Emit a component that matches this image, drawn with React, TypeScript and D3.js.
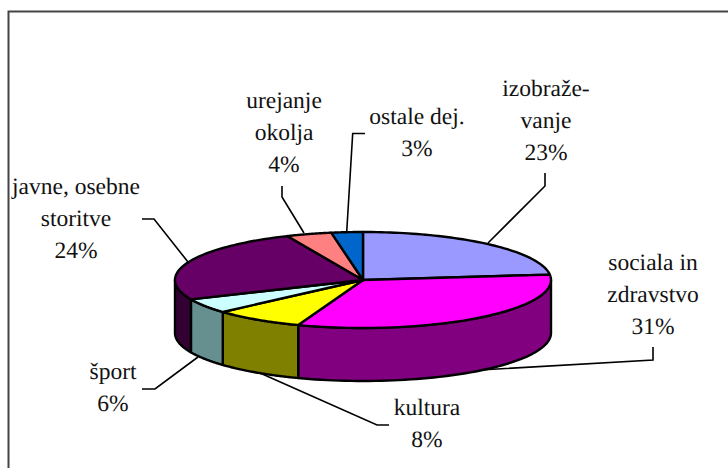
import React from "react";
import * as d3 from "d3";

const categories = ["izobraže-|vanje", "sociala in|zdravstvo", "kultura", "šport", "javne, osebne|storitve", "urejanje|okolja", "ostale dej."];
const percentLabels = ["23%", "31%", "8%", "6%", "24%", "4%", "3%"];
const sliceValues = [23.2, 32.4, 7.8, 5.0, 25.0, 3.9, 2.7];
const topColors = ["#9999FF", "#FF00FF", "#FFFF00", "#CCFFFF", "#660066", "#FF8080", "#0066CC"];
const sideColors = ["#666699", "#800080", "#808000", "#669090", "#330033", "#804040", "#003366"];
const labelCenters = [[546, 96], [653, 270], [427, 415], [113, 379], [76, 194], [284, 108], [417, 124]];
const leaders = [
  [[545, 173], [545, 186], [488, 243]],
  [[653, 347], [653, 360], [480, 370]],
  [[389, 425], [377, 425], [260, 373]],
  [[142, 389], [155, 389], [198, 357]],
  [[142, 219], [154, 219], [188, 262]],
  [[282, 186], [282, 197], [304, 233]],
  [[365, 133.5], [352.7, 133.5], [346.7, 232]],
];

const W = 728, H = 468;
const cx = 363, cy = 280, rx = 188, ry = 48, depth = 53;
const LINE = 32;

const px = (a: number) => cx + rx * Math.sin(a);
const py = (a: number) => cy - ry * Math.cos(a);
const line = d3.line<[number, number]>();
const arcPts = (a0: number, a1: number, dy = 0): [number, number][] =>
  d3.range(0, 61).map((i) => {
    const a = a0 + ((a1 - a0) * i) / 60;
    return [px(a), py(a) + dy] as [number, number];
  });

export default function App() {
  const arcs = d3.pie<number>().sort(null).value((d) => d)(sliceValues);
  const lo = Math.PI / 2, hi = (3 * Math.PI) / 2;
  return (
    <svg width={W} height={H} style={{ position: "absolute", left: 0, top: 0, background: "#fff" }}>
      <path d={`M8.5,${H}V11.5H${W}`} fill="none" stroke="#444" strokeWidth={2} />
      {arcs.map((s, i) => {
        const a0 = Math.max(s.startAngle, lo), a1 = Math.min(s.endAngle, hi);
        if (a1 <= a0) return null;
        const pts = [...arcPts(a0, a1), ...arcPts(a1, a0, depth)];
        return <path key={i} d={line(pts) + "Z"} fill={sideColors[i]} stroke="#000" strokeWidth={2.4} strokeLinejoin="round" />;
      })}
      {arcs.map((s, i) => {
        const pts: [number, number][] = [[cx, cy], ...arcPts(s.startAngle, s.endAngle)];
        return <path key={i} d={line(pts) + "Z"} fill={topColors[i]} stroke="#000" strokeWidth={2.4} strokeLinejoin="round" />;
      })}
      {leaders.map((l, i) => (
        <path key={i} d={line(l as [number, number][]) ?? ""} fill="none" stroke="#000" strokeWidth={1.6} />
      ))}
      <g style={{ fontFamily: '"Liberation Serif", "Times New Roman", Times, serif', textRendering: "geometricPrecision" }} fontSize={23.5} fill="#111" textAnchor="middle">
        {categories.map((c, i) => {
          const lines = [...c.split("|"), percentLabels[i]];
          return lines.map((t, j) => (
            <text key={`${i}-${j}`} x={labelCenters[i][0]} y={labelCenters[i][1] + j * LINE}>{t}</text>
          ));
        })}
      </g>
    </svg>
  );
}
